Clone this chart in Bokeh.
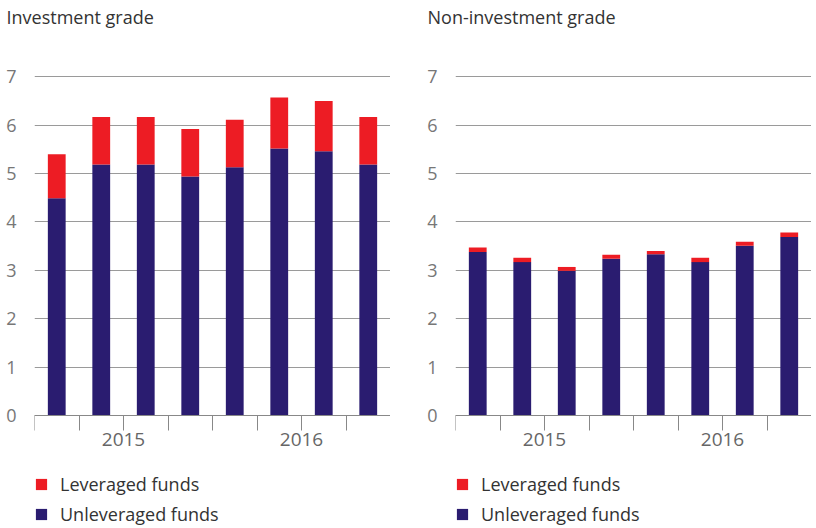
from bokeh.plotting import figure
from bokeh.models import Range1d, FixedTicker, Legend, LegendItem, ColumnDataSource, Title
from bokeh.layouts import row
from bokeh.embed import file_html
from bokeh.resources import INLINE

periods = ["2015 Q1", "2015 Q2", "2015 Q3", "2015 Q4",
           "2016 Q1", "2016 Q2", "2016 Q3", "2016 Q4"]
years = ["2015", "2016"]

ig_unleveraged = [4.49, 5.19, 5.19, 4.94, 5.13, 5.52, 5.46, 5.19]
ig_leveraged = [0.91, 0.98, 0.98, 0.98, 0.98, 1.05, 1.04, 0.98]

nig_unleveraged = [3.38, 3.17, 2.99, 3.24, 3.33, 3.17, 3.51, 3.69]
nig_leveraged = [0.09, 0.09, 0.08, 0.08, 0.07, 0.09, 0.08, 0.09]

y_ticks = [0, 1, 2, 3, 4, 5, 6, 7]

RED = "#ED1C24"
NAVY = "#2A1C70"
FONT = "Open Sans"


def make_panel(title, unlev, lev, left_border):
    n = len(periods)
    x = [i + 0.5 for i in range(n)]
    src = ColumnDataSource(dict(x=x, period=periods, unlev=unlev, lev=lev))
    p = figure(frame_width=356, frame_height=452, output_backend="svg", toolbar_location=None,
               x_range=Range1d(0, n), y_range=Range1d(-2.315, 7.027),
               min_border_left=left_border, min_border_right=0,
               min_border_top=0, min_border_bottom=0, title=None)
    p.outline_line_color = None
    p.background_fill_color = None
    p.border_fill_color = None

    rs = p.vbar_stack(["unlev", "lev"], x="x", width=0.4, source=src,
                      color=[NAVY, RED], line_color=None)

    # spacer between frame and title, then the title itself
    p.add_layout(Title(text=" ", text_font_size="10px", standoff=32), "above")
    p.add_layout(Title(text=title, align="left", offset=-28,
                       text_font=FONT, text_font_size="18px", text_font_style="normal",
                       text_color="#333333", standoff=4), "above")

    # y axis
    yax = p.yaxis[0]
    yax.ticker = FixedTicker(ticks=y_ticks)
    yax.axis_line_color = None
    yax.major_tick_line_color = None
    yax.minor_tick_line_color = None
    yax.major_label_standoff = 12
    yax.major_label_text_font = FONT
    yax.major_label_text_font_size = "18px"
    yax.major_label_text_color = "#777777"

    p.ygrid.ticker = FixedTicker(ticks=y_ticks)
    p.ygrid.grid_line_color = "#9a9a9a"
    p.ygrid.grid_line_width = 1
    p.xgrid.grid_line_color = None

    # x axis at y = 0 inside the frame
    xax = p.xaxis[0]
    xax.fixed_location = 0
    xax.ticker = FixedTicker(ticks=list(range(n + 1)))
    overrides = {i: "" for i in range(n + 1)}
    per_year = n // len(years)
    for k, yr in enumerate(years):
        overrides[k * per_year + per_year // 2] = yr
    xax.major_label_overrides = overrides
    xax.axis_line_color = "#888888"
    xax.axis_line_width = 1
    xax.major_tick_line_color = "#888888"
    xax.major_tick_in = 0
    xax.major_tick_out = 15
    xax.minor_tick_line_color = None
    xax.major_label_standoff = 3
    xax.major_label_text_font = FONT
    xax.major_label_text_font_size = "19px"
    xax.major_label_text_color = "#666666"

    legend = Legend(items=[LegendItem(label="Leveraged funds", renderers=[rs[1]]),
                           LegendItem(label="Unleveraged funds", renderers=[rs[0]])],
                    location=(0, 1), orientation="vertical",
                    glyph_width=14, glyph_height=14, label_standoff=12,
                    label_text_font=FONT, label_text_font_size="18px",
                    label_text_color="#333333", label_height=25,
                    spacing=5, padding=0, margin=0,
                    border_line_color=None, background_fill_alpha=0)
    p.add_layout(legend)
    return p


p1 = make_panel("Investment grade", ig_unleveraged, ig_leveraged, 34)
p2 = make_panel("Non-investment grade", nig_unleveraged, nig_leveraged, 65)

layout = row(p1, p2)
open("out.html", "w").write(file_html(layout, INLINE))
